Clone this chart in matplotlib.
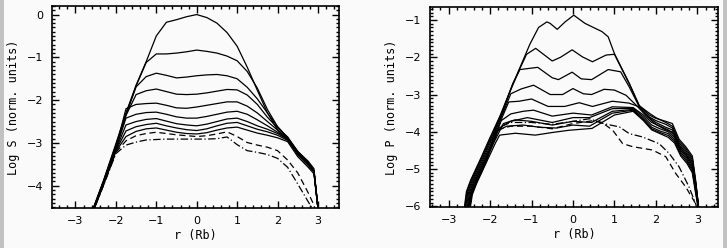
import matplotlib
matplotlib.use("Agg")
import matplotlib.pyplot as plt
from matplotlib.ticker import MultipleLocator
from matplotlib.patches import Rectangle

# ---------------- Left panel (Log S) : common r grid ----------------
S_R = [-2.62, -2.3, -2.0, -1.75, -1.5, -1.25, -1.0, -0.75, -0.5, -0.25, 0.0, 0.25,
       0.5, 0.75, 1.0, 1.25, 1.5, 1.75, 2.0, 2.25, 2.5, 2.75, 2.9, 3.02]

S1 = [-4.68, -3.86, -3.02, -2.3, -1.65, -1.1, -0.5, -0.18, -0.12, -0.05, 0.0, -0.07,
      -0.2, -0.42, -0.74, -1.23, -1.77, -2.3, -2.7, -2.93, -3.2, -3.42, -3.6, -4.7]
S2 = [-4.69, -3.88, -3.05, -2.33, -1.67, -1.12, -0.92, -0.92, -0.9, -0.87, -0.83, -0.86,
      -0.9, -0.97, -1.08, -1.33, -1.72, -2.22, -2.62, -2.88, -3.2, -3.45, -3.66, -4.7]
S3 = [-4.7, -3.89, -3.07, -2.34, -1.69, -1.45, -1.37, -1.42, -1.48, -1.46, -1.43, -1.41,
      -1.4, -1.43, -1.5, -1.7, -1.97, -2.3, -2.62, -2.88, -3.22, -3.48, -3.66, -4.7]
S4 = [-4.7, -3.9, -3.1, -2.36, -1.87, -1.78, -1.74, -1.8, -1.86, -1.87, -1.86, -1.83,
      -1.79, -1.75, -1.76, -1.88, -2.1, -2.4, -2.65, -2.86, -3.2, -3.46, -3.68, -4.7]
S5 = [-4.71, -3.92, -3.12, -2.2, -2.1, -2.08, -2.07, -2.12, -2.18, -2.19, -2.16, -2.12,
      -2.08, -2.04, -2.04, -2.14, -2.3, -2.5, -2.7, -2.88, -3.22, -3.45, -3.65, -4.7]
S6 = [-4.71, -3.93, -3.14, -2.42, -2.33, -2.29, -2.28, -2.33, -2.39, -2.42, -2.42, -2.38,
      -2.33, -2.28, -2.26, -2.33, -2.46, -2.6, -2.75, -2.9, -3.22, -3.45, -3.65, -4.7]
S7 = [-4.72, -3.94, -3.16, -2.58, -2.5, -2.45, -2.43, -2.49, -2.55, -2.58, -2.6, -2.56,
      -2.5, -2.44, -2.42, -2.5, -2.6, -2.68, -2.78, -2.92, -3.25, -3.48, -3.65, -4.7]
S8 = [-4.72, -3.95, -3.18, -2.72, -2.62, -2.57, -2.54, -2.6, -2.65, -2.69, -2.71, -2.67,
      -2.6, -2.54, -2.52, -2.6, -2.68, -2.74, -2.82, -2.94, -3.28, -3.52, -3.68, -4.7]
S9 = [-4.73, -3.96, -3.2, -2.85, -2.73, -2.67, -2.65, -2.7, -2.75, -2.78, -2.79, -2.76,
      -2.7, -2.65, -2.63, -2.7, -2.77, -2.82, -2.88, -2.97, -3.32, -3.56, -3.72, -4.7]
S10 = [-4.74, -3.97, -3.22, -2.95, -2.83, -2.78, -2.75, -2.78, -2.81, -2.83, -2.85, -2.83,
       -2.79, -2.74, -2.85, -2.99, -3.05, -3.1, -3.18, -3.4, -3.7, -4.15, -4.45, -4.9]
S11 = [-4.75, -3.98, -3.25, -3.05, -2.98, -2.93, -2.92, -2.91, -2.91, -2.91, -2.91, -2.91,
       -2.9, -2.86, -3.04, -3.18, -3.22, -3.27, -3.36, -3.57, -3.96, -4.36, -4.6, -4.95]

S_SOLID = [S1, S2, S3, S4, S5, S6, S7, S8, S9]
S_DASHED = S10
S_DASHDOT = S11

# ---------------- Right panel (Log P) : one r list per curve ----------------
P1_R = [-2.64, -2.57, -2.47, -2.22, -2.02, -1.75, -1.5, -1.25, -1.04, -0.83, -0.63, -0.55, -0.38,
        -0.19, 0.02, 0.29, 0.7, 0.85, 1.0, 1.36, 1.6, 1.84, 2.0, 2.24, 2.4, 2.56, 2.72, 2.88, 2.96, 3.05]
P1_V = [-6.2, -5.6, -5.3, -4.7, -4.2, -3.55, -2.85, -2.2, -1.65, -1.2, -1.05, -1.09, -1.25,
        -1.05, -0.87, -1.09, -1.31, -1.45, -1.9, -2.7, -3.3, -3.55, -3.64, -3.72, -3.78, -4.2, -4.4, -4.65, -5.3, -6.2]
P2_R = [-2.63, -2.56, -2.46, -2.21, -2.01, -1.75, -1.5, -1.3, -1.12, -0.9, -0.5, -0.3, -0.02,
        0.23, 0.47, 0.8, 1.0, 1.36, 1.6, 1.84, 2.0, 2.24, 2.4, 2.56, 2.72, 2.88, 2.96, 3.05]
P2_V = [-6.2, -5.62, -5.32, -4.72, -4.22, -3.57, -2.87, -2.35, -1.92, -1.76, -2.1, -2.0, -1.8,
        -1.99, -2.12, -1.94, -1.92, -2.72, -3.3, -3.5, -3.62, -3.75, -3.85, -4.25, -4.45, -4.7, -5.35, -6.2]
P3_R = [-2.61, -2.54, -2.44, -2.19, -1.99, -1.73, -1.45, -1.28, -0.85, -0.5, -0.35, -0.02, 0.2,
        0.45, 0.85, 1.15, 1.36, 1.6, 1.84, 2.0, 2.24, 2.4, 2.56, 2.72, 2.88, 2.96, 3.05]
P3_V = [-6.2, -5.62, -5.33, -4.73, -4.22, -3.57, -2.7, -2.33, -2.27, -2.55, -2.6, -2.4, -2.58,
        -2.6, -2.33, -2.39, -2.8, -3.33, -3.6, -3.7, -3.8, -3.9, -4.3, -4.5, -4.75, -5.35, -6.2]
P4_R = [-2.59, -2.52, -2.42, -2.17, -1.97, -1.72, -1.5, -1.25, -0.95, -0.55, -0.25, 0.0, 0.25,
        0.45, 0.75, 1.0, 1.28, 1.52, 1.75, 2.0, 2.24, 2.4, 2.56, 2.72, 2.88, 2.96, 3.05]
P4_V = [-6.2, -5.63, -5.34, -4.74, -4.23, -3.58, -2.98, -2.85, -2.75, -3.0, -3.0, -2.84, -2.98,
        -3.0, -2.86, -2.88, -3.02, -3.28, -3.55, -3.75, -3.88, -3.95, -4.35, -4.55, -4.8, -5.4, -6.2]
P5_R = [-2.57, -2.5, -2.4, -2.15, -1.94, -1.7, -1.55, -1.3, -1.0, -0.6, -0.2, 0.15, 0.47,
        0.95, 1.35, 1.6, 1.8, 2.0, 2.24, 2.4, 2.56, 2.72, 2.88, 2.96, 3.05]
P5_V = [-6.2, -5.64, -5.35, -4.75, -4.24, -3.59, -3.2, -3.18, -3.12, -3.32, -3.32, -3.22, -3.32,
        -3.18, -3.23, -3.33, -3.6, -3.8, -3.95, -4.0, -4.4, -4.6, -4.85, -5.4, -6.2]
P6_R = [-2.55, -2.48, -2.38, -2.13, -1.92, -1.73, -1.5, -1.2, -0.95, -0.5, 0.0, 0.45, 0.95,
        1.45, 1.7, 1.9, 2.1, 2.3, 2.45, 2.6, 2.75, 2.88, 2.96, 3.05]
P6_V = [-6.2, -5.65, -5.36, -4.76, -4.25, -3.7, -3.52, -3.45, -3.42, -3.58, -3.5, -3.55, -3.33,
        -3.35, -3.55, -3.75, -3.85, -3.95, -4.1, -4.45, -4.65, -4.9, -5.45, -6.2]
P7_R = [-2.54, -2.47, -2.37, -2.12, -1.91, -1.78, -1.5, -1.1, -0.5, 0.0, 0.4, 0.95, 1.45,
        1.7, 1.9, 2.1, 2.3, 2.45, 2.6, 2.75, 2.88, 2.96, 3.05]
P7_V = [-6.2, -5.66, -5.37, -4.77, -4.26, -3.9, -3.72, -3.62, -3.75, -3.62, -3.62, -3.38, -3.37,
        -3.6, -3.82, -3.92, -4.0, -4.15, -4.5, -4.7, -4.95, -5.5, -6.2]
P8_R = [-2.52, -2.45, -2.35, -2.1, -1.9, -1.68, -1.4, -1.0, -0.5, 0.0, 0.45, 0.95, 1.45,
        1.7, 1.9, 2.1, 2.3, 2.45, 2.6, 2.75, 2.88, 2.96, 3.05]
P8_V = [-6.2, -5.67, -5.38, -4.78, -4.27, -3.78, -3.68, -3.72, -3.82, -3.72, -3.75, -3.45, -3.4,
        -3.65, -3.88, -3.98, -4.05, -4.2, -4.55, -4.75, -5.0, -5.55, -6.2]
P9_R = [-2.51, -2.44, -2.34, -2.09, -1.89, -1.6, -1.2, -0.8, -0.4, 0.0, 0.4, 0.95, 1.45,
        1.7, 1.9, 2.1, 2.3, 2.45, 2.6, 2.75, 2.88, 2.96, 3.05]
P9_V = [-6.2, -5.68, -5.39, -4.79, -4.02, -3.85, -3.82, -3.88, -3.9, -3.82, -3.85, -3.5, -3.42,
        -3.68, -3.92, -4.02, -4.1, -4.25, -4.6, -4.8, -5.05, -5.6, -6.2]
P10_R = [-2.5, -2.43, -2.33, -2.08, -1.87, -1.77, -1.39, -0.91, -0.5, -0.1, 0.46, 0.7, 1.0,
         1.45, 1.7, 1.9, 2.1, 2.3, 2.45, 2.6, 2.75, 2.88, 2.96, 3.05]
P10_V = [-6.2, -5.69, -5.4, -4.8, -4.3, -4.09, -4.04, -4.09, -4.02, -3.96, -3.91, -3.75, -3.55,
         -3.45, -3.7, -3.95, -4.05, -4.15, -4.3, -4.65, -4.85, -5.1, -5.65, -6.2]
P11_R = [-2.53, -2.46, -2.36, -2.11, -1.85, -1.5, -1.0, -0.5, 0.0, 0.5, 0.7, 0.96, 1.2,
         1.44, 1.92, 2.24, 2.48, 2.72, 2.96, 3.05]
P11_V = [-6.2, -5.7, -5.41, -4.81, -3.95, -3.85, -3.85, -3.92, -3.78, -3.7, -3.75, -3.96, -4.32,
         -4.4, -4.49, -4.67, -5.12, -5.48, -5.93, -6.2]
P12_R = [-2.52, -2.45, -2.35, -2.1, -1.85, -1.5, -1.0, -0.5, 0.0, 0.4, 0.7, 1.12, 1.36,
         1.68, 2.08, 2.32, 2.56, 2.8, 2.96, 3.02]
P12_V = [-6.2, -5.71, -5.42, -4.82, -3.9, -3.75, -3.75, -3.8, -3.72, -3.65, -3.77, -3.87, -4.05,
         -4.14, -4.32, -4.58, -4.94, -5.48, -5.93, -6.2]

P_SOLID = [(P1_R, P1_V), (P2_R, P2_V), (P3_R, P3_V), (P4_R, P4_V), (P5_R, P5_V),
           (P6_R, P6_V), (P7_R, P7_V), (P8_R, P8_V), (P9_R, P9_V), (P10_R, P10_V)]
P_DASHED = (P11_R, P11_V)
P_DASHDOT = (P12_R, P12_V)

X_TICKS = [-3, -2, -1, 0, 1, 2, 3]
S_TICKS = [0, -1, -2, -3, -4]
P_TICKS = [-1, -2, -3, -4, -5, -6]

BG = "#fafafa"
LW = 0.9
FONT = "DejaVu Sans Mono"

fig = plt.figure(figsize=(7.27, 2.48), dpi=100, facecolor=BG)
fig.patches.append(Rectangle((0, 0), 4 / 727, 1, transform=fig.transFigure,
                             facecolor="#c2c2c2", edgecolor="none"))
fig.patches.append(Rectangle((723 / 727, 0), 4 / 727, 1, transform=fig.transFigure,
                             facecolor="#c2c2c2", edgecolor="none"))

axS = fig.add_axes([52 / 727, 40 / 248, 287 / 727, 202 / 248], facecolor=BG)
axP = fig.add_axes([430 / 727, 41 / 248, 288 / 727, 200 / 248], facecolor=BG)


def fmt(t):
    return f"\u2212{abs(t)}" if t < 0 else str(t)


def style(ax, yticks, ylabel):
    ax.set_xticks(X_TICKS)
    ax.set_yticks(yticks)
    ax.xaxis.set_minor_locator(MultipleLocator(0.2))
    ax.yaxis.set_minor_locator(MultipleLocator(0.1))
    ax.tick_params(which="both", direction="in", top=True, right=True, width=1,
                   colors="black")
    ax.tick_params(which="major", length=5, pad=6)
    ax.tick_params(which="minor", length=2.5)
    for sp in ax.spines.values():
        sp.set_linewidth(1.2)
    ax.set_xticklabels([fmt(t) for t in X_TICKS], fontsize=8, family="DejaVu Sans")
    ax.set_yticklabels([fmt(t) for t in yticks], fontsize=8, family="DejaVu Sans")
    ax.set_xlabel("r (Rb)", fontsize=8.5, family=FONT, labelpad=2)
    ax.set_ylabel(ylabel, fontsize=8.5, family=FONT, labelpad=5)


for ys in S_SOLID:
    axS.plot(S_R, ys, color="black", lw=LW)
axS.plot(S_R, S_DASHED, color="black", lw=LW, ls=(0, (5, 3)))
axS.plot(S_R, S_DASHDOT, color="black", lw=LW, ls=(0, (6, 2, 1, 2)))
axS.set_xlim(-3.58, 3.52)
axS.set_ylim(-4.52, 0.2)
style(axS, S_TICKS, "Log S (norm. units)")

for xs, ys in P_SOLID:
    axP.plot(xs, ys, color="black", lw=LW)
axP.plot(P_DASHED[0], P_DASHED[1], color="black", lw=LW, ls=(0, (5, 3)))
axP.plot(P_DASHDOT[0], P_DASHDOT[1], color="black", lw=LW, ls=(0, (6, 2, 1, 2)))
axP.set_xlim(-3.45, 3.5)
axP.set_ylim(-6.02, -0.65)
style(axP, P_TICKS, "Log P (norm. units)")

fig.savefig("out.png", dpi=100, facecolor=BG)
